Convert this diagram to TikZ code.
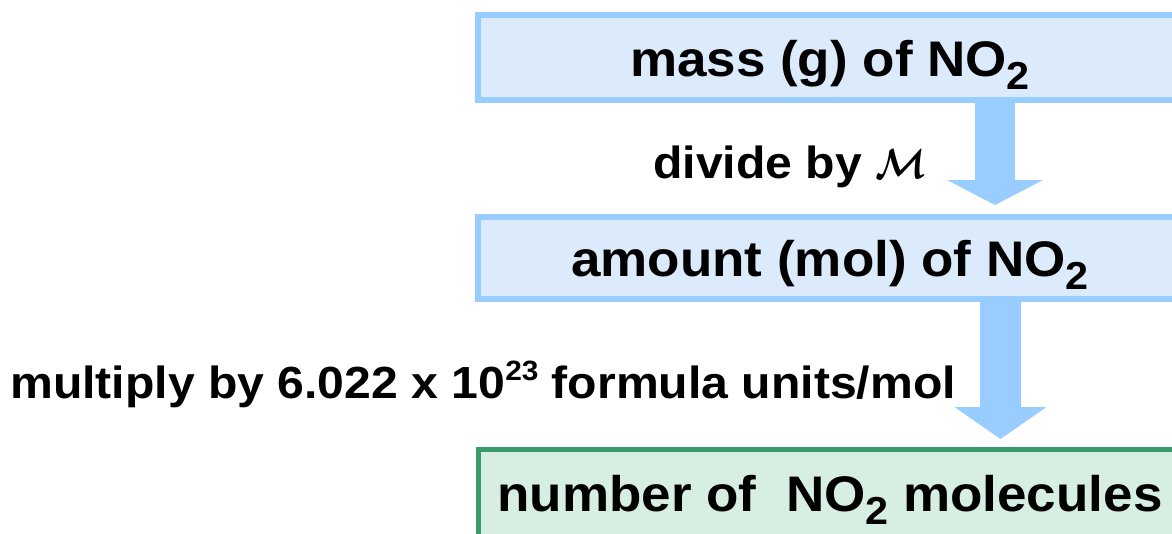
\documentclass[tikz,border=0pt]{standalone}
\usepackage{fontspec}
\setmainfont{Liberation Sans}
\newfontfamily\boxfont{Liberation Sans Bold}[FakeStretch=1.06]
\newfontfamily\labfont{Liberation Sans Bold}[FakeStretch=1.07]
\usetikzlibrary{calc}
\definecolor{bluebd}{HTML}{99CCFF}
\definecolor{bluefill}{HTML}{DCEBFC}
\definecolor{greenbd}{HTML}{3A9A6A}
\definecolor{greenfill}{HTML}{D7EEE2}
\definecolor{arrowc}{HTML}{99CCFF}
\newcommand\subtwo{\raisebox{-0.26em}{\scalebox{0.78}{2}}}
\newcommand\suptt{\raisebox{0.38em}{\scalebox{0.62}{23}}}
\newcommand\molarM{{\fontsize{10}{12}\selectfont\scalebox{3.7}[4.2]{\boldmath$\mathcal{M}$}}}
\begin{document}
\begin{tikzpicture}[x=1pt,y=-1pt,
  flowbox/.style={line width=6pt, minimum width=704pt, inner sep=0pt,
    text height=37pt, text depth=0pt,
    font=\boxfont\fontsize{50}{54}\selectfont},
  bluebox/.style={flowbox, draw=bluebd, fill=bluefill, minimum height=85pt},
  greenbox/.style={flowbox, draw=greenbd, fill=greenfill, line width=5pt, minimum height=87pt},
  lab/.style={inner sep=0pt, anchor=base west, font=\labfont\fontsize{45}{49}\selectfont},
  flowarrow/.style={fill=arrowc}]
\useasboundingbox (0,0) rectangle (1172,533);
\clip (0,0) rectangle (1172,533);

\node[bluebox] (b1) at (830,57.5) {mass (g) of NO\subtwo};
\node[bluebox, minimum height=82pt] (b2) at (830,258) {amount (mol) of NO\subtwo};
\node[greenbox] (b3) at (830,493) {number of\ \ NO\subtwo\ molecules};

\coordinate (a1x) at (995,0);
\coordinate (a2x) at (1000.5,0);
\coordinate (a1s) at (b1.south -| a1x);
\coordinate (a1t) at ($(b2.north -| a1x)+(0,-9)$);
\coordinate (a2s) at (b2.south -| a2x);
\coordinate (a2t) at ($(b3.north -| a2x)+(0,-8)$);

\fill[flowarrow] ($(a1s)+(-20,0)$) -- ($(a1s)+(20,0)$) -- ($(a1t)+(20,-25)$)
  -- ($(a1t)+(48,-25)$) -- (a1t) -- ($(a1t)+(-48,-25)$) -- ($(a1t)+(-20,-25)$) -- cycle;
\fill[flowarrow] ($(a2s)+(-20.5,0)$) -- ($(a2s)+(20.5,0)$) -- ($(a2t)+(20.5,-32)$)
  -- ($(a2t)+(46,-32)$) -- (a2t) -- ($(a2t)+(-46,-32)$) -- ($(a2t)+(-20.5,-32)$) -- cycle;

\node[lab] (l1) at (653,178) {divide by \molarM};
\node[lab] (l2) at (10,398) {multiply by 6.022 x 10\suptt\ formula units/mol};
\end{tikzpicture}
\end{document}
